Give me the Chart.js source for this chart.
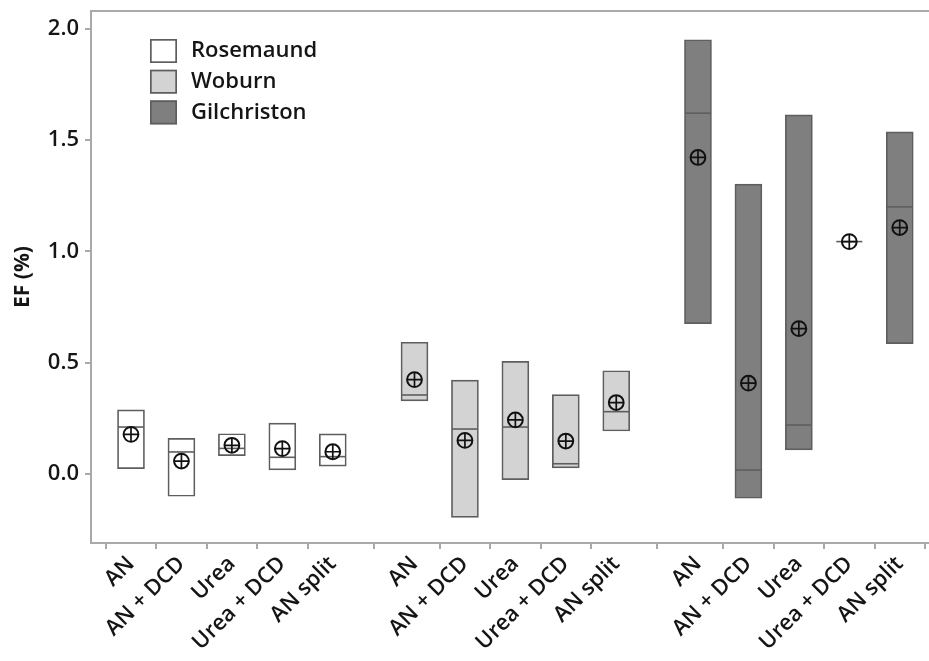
<!DOCTYPE html>
<html>
<head>
<meta charset="utf-8">
<script src="https://cdn.jsdelivr.net/npm/chart.js@4.4.1/dist/chart.umd.min.js"></script>
<style>
  html, body { margin: 0; padding: 0; background: #fff; overflow: hidden; }
  #wrap { width: 929px; height: 661px; position: relative; }
</style>
</head>
<body>
<div id="wrap"><canvas id="c" width="929" height="661"></canvas></div>
<script>
// Sites and fertiliser treatments
const sites = ['Rosemaund', 'Woburn', 'Gilchriston'];
const treatments = ['AN', 'AN + DCD', 'Urea', 'Urea + DCD', 'AN split'];

// Emission factor (%) summaries per site, in treatment order
const rosemaundQ1     = [0.024, -0.100, 0.082, 0.018, 0.035];
const rosemaundQ3     = [0.288,  0.160, 0.181, 0.229, 0.180];
const rosemaundMedian = [0.211,  0.099, 0.115, 0.075, 0.078];
const rosemaundMean   = [0.178,  0.058, 0.129, 0.114, 0.100];

const woburnQ1     = [0.328, -0.195, -0.025, 0.027, 0.193];
const woburnQ3     = [0.592,  0.422,  0.506, 0.357, 0.464];
const woburnMedian = [0.355,  0.202,  0.211, 0.046, 0.280];
const woburnMean   = [0.424,  0.151,  0.243, 0.148, 0.321];

const gilchristonQ1     = [0.675, -0.109, 0.108, 1.044, 0.586];
const gilchristonQ3     = [1.951,  1.302, 1.613, 1.044, 1.537];
const gilchristonMedian = [1.621,  0.018, 0.220, 1.044, 1.200];
const gilchristonMean   = [1.422,  0.408, 0.653, 1.044, 1.107];

// Y axis tick values
const yTicks = [0, 0.5, 1.0, 1.5, 2.0];

// ---- layout / styling ----
const GROUP_STRIDE = 5.62;          // spacing between site groups, in slot units
const siteFills = ['#ffffff', '#d3d3d3', '#7f7f7f'];
const edgeColor = '#5e5e5e';
const axisColor = '#a9a9a9';
const textColor = '#151515';
const FONT = "'Open Sans', 'Noto Sans', sans-serif";

const summaries = [
  { q1: rosemaundQ1,   q3: rosemaundQ3,   med: rosemaundMedian,   mean: rosemaundMean },
  { q1: woburnQ1,      q3: woburnQ3,      med: woburnMedian,      mean: woburnMean },
  { q1: gilchristonQ1, q3: gilchristonQ3, med: gilchristonMedian, mean: gilchristonMean }
];

const slot = (s, t) => s * GROUP_STRIDE + t;
const tickPositions = [];
const tickLabels = [];
sites.forEach((_, s) => treatments.forEach((t, i) => { tickPositions.push(slot(s, i)); tickLabels.push(t); }));

const datasets = [];
sites.forEach((site, s) => {
  const d = summaries[s];
  datasets.push({
    type: 'bar',
    label: site,
    data: treatments.map((_, i) => ({ x: slot(s, i), y: [d.q1[i], d.q3[i]] })),
    backgroundColor: siteFills[s],
    borderColor: edgeColor,
    borderWidth: 1.7,
    borderSkipped: false,
    barThickness: 27,
    grouped: false,
    order: 5
  });
});

const medianPts = [], meanPts = [];
sites.forEach((_, s) => {
  const d = summaries[s];
  treatments.forEach((_, i) => {
    medianPts.push({ x: slot(s, i), y: d.med[i] });
    meanPts.push({ x: slot(s, i), y: d.mean[i] });
  });
});

datasets.push({
  type: 'scatter', label: 'Median', data: medianPts,
  pointStyle: 'line', pointRadius: 13, borderColor: edgeColor, borderWidth: 1.6,
  showLine: false, order: 3
});
datasets.push({
  type: 'scatter', label: 'Mean', data: meanPts,
  pointStyle: 'circle', pointRadius: 7.4, backgroundColor: 'rgba(0,0,0,0)',
  borderColor: '#111', borderWidth: 2, showLine: false, order: 2
});
datasets.push({
  type: 'scatter', label: 'Mean cross', data: meanPts,
  pointStyle: 'cross', pointRadius: 7.4, borderColor: '#111', borderWidth: 1.7,
  showLine: false, order: 1
});

// Top edge of the plot frame
const framePlugin = {
  id: 'frameTop',
  beforeDatasetsDraw(chart) {
    const { ctx, chartArea: a } = chart;
    ctx.save();
    ctx.strokeStyle = axisColor;
    ctx.lineWidth = 2;
    ctx.beginPath();
    ctx.moveTo(a.left - 1, a.top);
    ctx.lineTo(a.right, a.top);
    ctx.stroke();
    ctx.restore();
  }
};

// Site legend inside the upper-left of the plot
const siteLegend = {
  id: 'siteLegend',
  afterDraw(chart) {
    const { ctx, chartArea: a } = chart;
    const bx = a.left + 59, by = a.top + 28, bw = 27, bh = 24, pitch = 30.7;
    ctx.save();
    ctx.font = `600 22px ${FONT}`;
    ctx.textBaseline = 'middle';
    ctx.textAlign = 'left';
    chart.data.datasets.filter(ds => ds.type === 'bar').forEach((ds, k) => {
      const y = by + k * pitch;
      ctx.fillStyle = ds.backgroundColor;
      ctx.fillRect(bx, y, bw, bh);
      ctx.strokeStyle = edgeColor;
      ctx.lineWidth = 1.7;
      ctx.strokeRect(bx + 0.85, y + 0.85, bw - 1.7, bh - 1.7);
      ctx.fillStyle = textColor;
      ctx.fillText(ds.label, bx + bw + 14, y + bh / 2);
    });
    ctx.restore();
  }
};

new Chart(document.getElementById('c'), {
  type: 'bar',
  data: { datasets },
  plugins: [framePlugin, siteLegend],
  options: {
    responsive: false,
    animation: false,
    events: [],
    layout: { autoPadding: false, padding: { top: 11, right: 0, bottom: 0, left: 0 } },
    plugins: { legend: { display: false }, tooltip: { enabled: false } },
    scales: {
      x: {
        type: 'linear',
        min: -0.793,
        max: 15.82,
        offset: false,
        afterFit(s) { s.height = 118; s.paddingLeft = 0; s.paddingRight = 0; },
        afterBuildTicks(s) { s.ticks = tickPositions.map(v => ({ value: v })); },
        ticks: {
          autoSkip: false,
          minRotation: 45,
          maxRotation: 45,
          padding: 2,
          color: textColor,
          font: { family: FONT, size: 22, weight: '600' },
          callback: (v, i) => tickLabels[i]
        },
        grid: { drawOnChartArea: false, drawTicks: true, tickLength: 6, color: axisColor, lineWidth: 2 },
        border: { display: true, color: axisColor, width: 2 }
      },
      y: {
        type: 'linear',
        min: -0.31,
        max: 2.08,
        afterFit(s) { s.width = 91; s.paddingTop = 0; s.paddingBottom = 0; },
        afterBuildTicks(s) { s.ticks = yTicks.map(v => ({ value: v })); },
        ticks: {
          padding: 6,
          color: textColor,
          font: { family: FONT, size: 22, weight: '600' },
          callback: v => Number(v).toFixed(1)
        },
        grid: { drawOnChartArea: false, drawTicks: true, tickLength: 6, color: axisColor, lineWidth: 2 },
        border: { display: true, color: axisColor, width: 2 },
        title: {
          display: true,
          text: 'EF (%)',
          color: textColor,
          font: { family: FONT, size: 21, weight: 'bold' },
          padding: { top: 10, bottom: 0 }
        }
      }
    }
  }
});
</script>
</body>
</html>
